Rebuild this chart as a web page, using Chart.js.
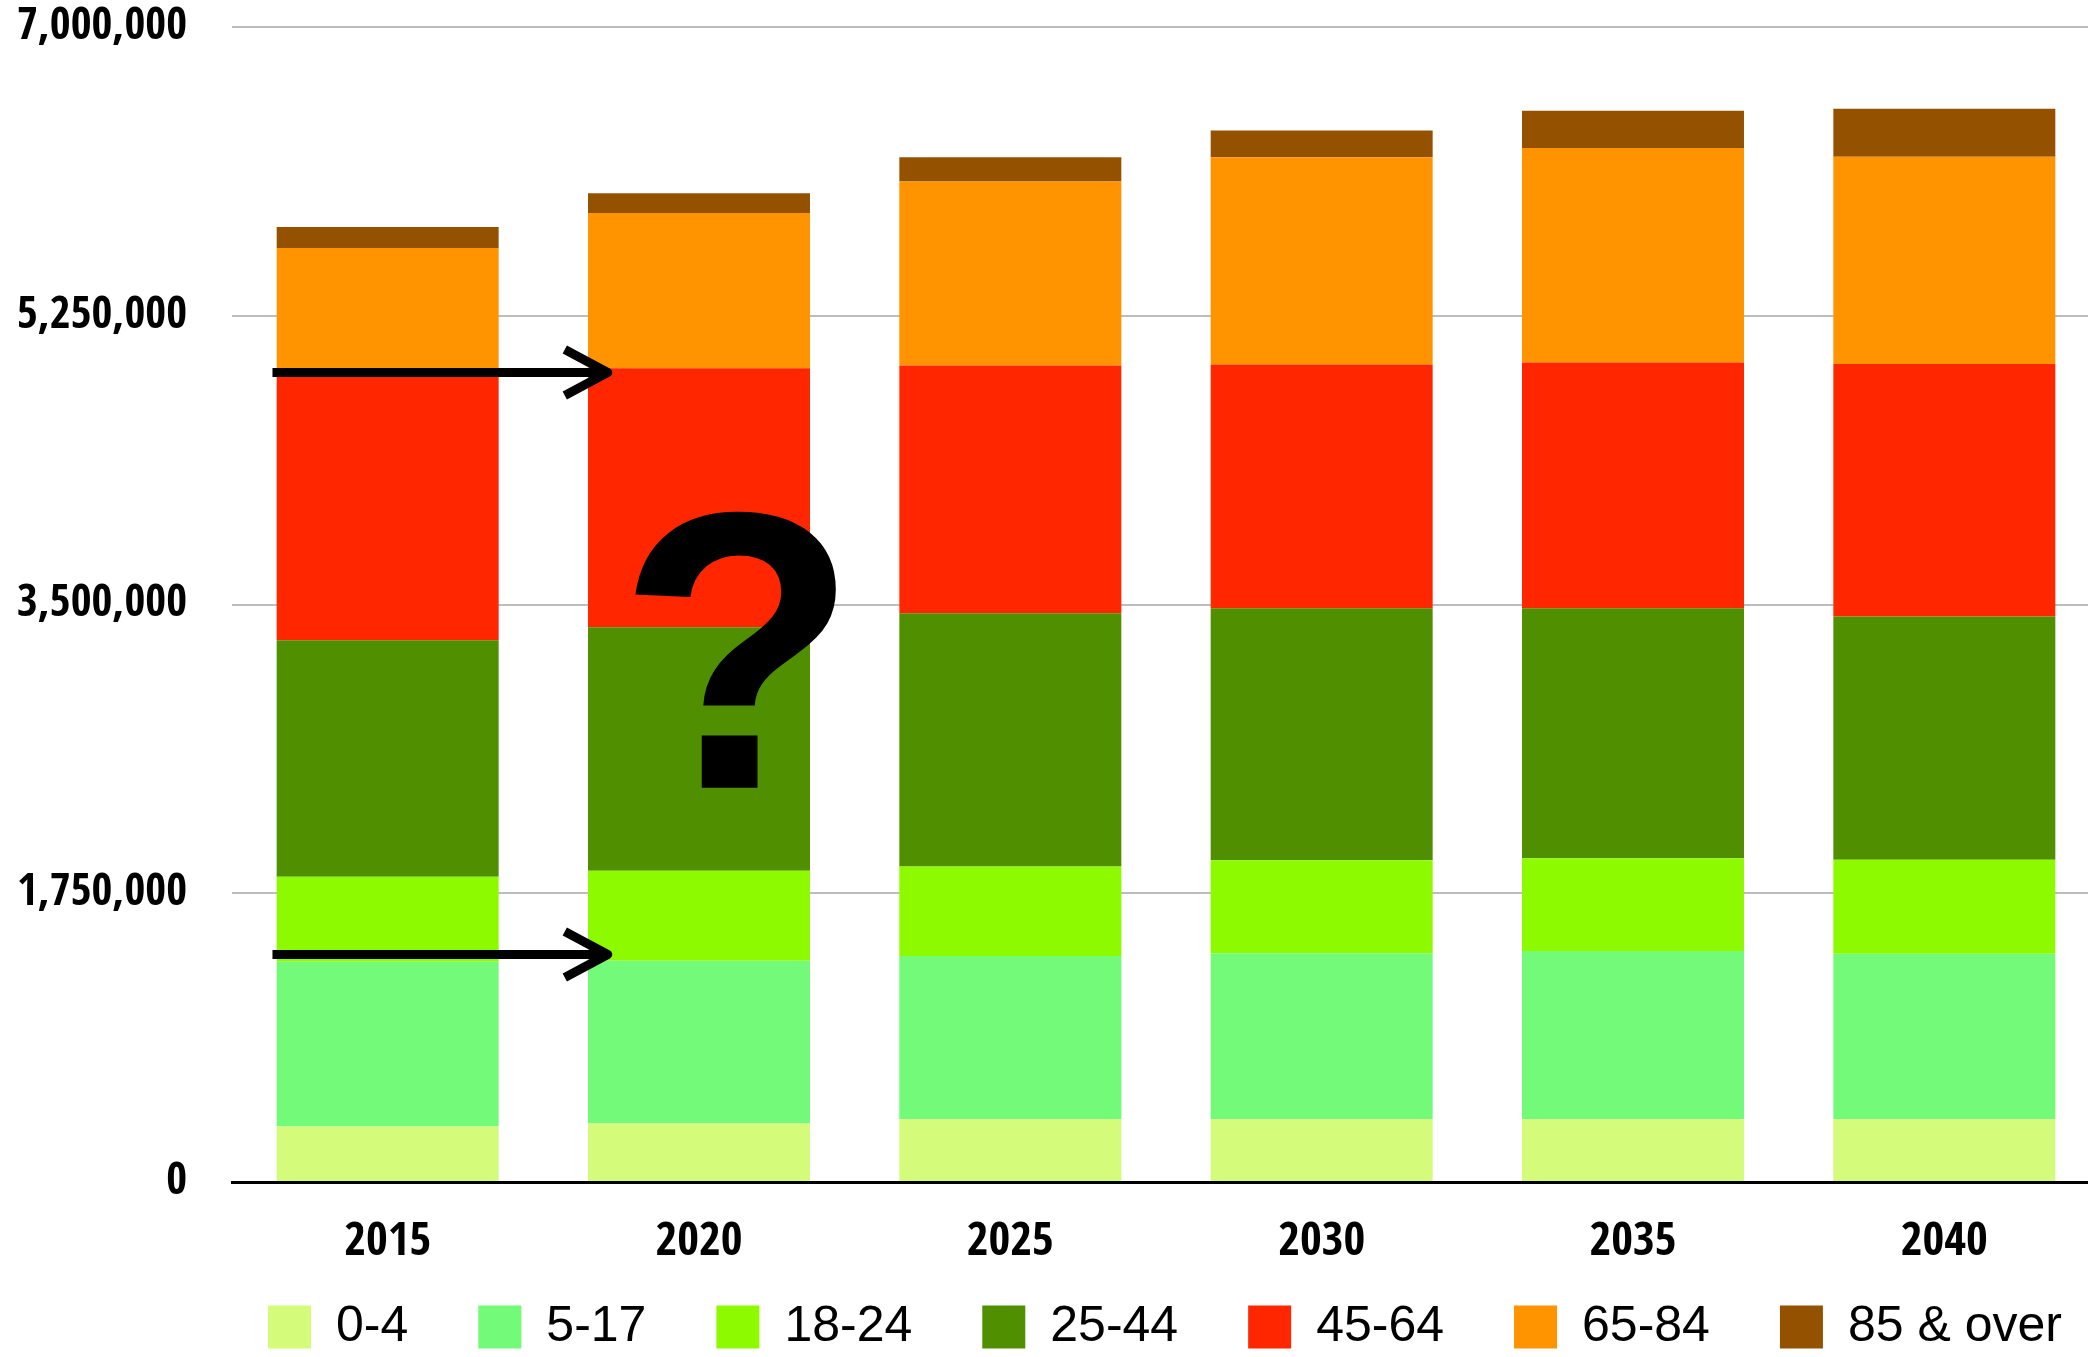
<!DOCTYPE html>
<html>
<head>
<meta charset="utf-8">
<script src="https://cdn.jsdelivr.net/npm/chart.js@4"></script>
<style>
  html, body { margin: 0; padding: 0; overflow: hidden; background: #fff; }
  #wrap { width: 2100px; height: 1362px; }
</style>
</head>
<body>
<div id="wrap"><canvas id="myChart"></canvas></div>
<script>
const years = ['2015', '2020', '2025', '2030', '2035', '2040']
const groups = ['0-4', '5-17', '18-24', '25-44', '45-64', '65-84', '85 & over']
const age0to4 = [337000, 355000, 380000, 380000, 380000, 380000]
const age5to17 = [998000, 986000, 990000, 1006000, 1020000, 1003000]
const age18to24 = [515000, 545000, 542000, 564000, 562000, 570000]
const age25to44 = [1433000, 1476000, 1535000, 1527000, 1516000, 1474000]
const age45to64 = [1627000, 1570000, 1501000, 1478000, 1488000, 1530000]
const age65to84 = [751000, 941000, 1115000, 1255000, 1301000, 1256000]
const age85plus = [127000, 119000, 147000, 162000, 226000, 291000]
const colors = ['#D4FB79', '#73FA79', '#8EFA00', '#4F8F00', '#FF2600', '#FF9300', '#945200']
const yTicks = [0, 1750000, 3500000, 5250000, 7000000]
// arrows from the 2015 bar to the 2020 bar, and the big question mark
const arrowLevels = [4906000, 1379000]
const mark = '?'

const series = [age0to4, age5to17, age18to24, age25to44, age45to64, age65to84, age85plus]

const sans = "'Liberation Sans', Arial, sans-serif"
const condensed = "'Open Sans Condensed', 'Roboto Condensed', 'Liberation Sans', sans-serif"

const annotate = {
    id: 'annotate',
    afterLayout(chart) {
        // legend sits centred under the plot area, not the whole canvas
        chart.legend.left = chart.chartArea.left - 42
        chart.legend.right = chart.chartArea.right + 40
        // let the year labels hang below their (short) axis box
        chart.scales.x.bottom += 40
    },
    afterDatasetsDraw(chart) {
        const {ctx, scales: {x, y}} = chart
        const step = x.getPixelForValue(1) - x.getPixelForValue(0)
        ctx.save()
        ctx.strokeStyle = '#000'
        ctx.lineWidth = 9
        ctx.lineJoin = 'round'
        arrowLevels.forEach(v => {
            const py = y.getPixelForValue(v)
            const x0 = x.getPixelForValue(0) - 0.37 * step
            const x1 = x.getPixelForValue(1) - 0.293 * step
            ctx.beginPath()
            ctx.moveTo(x0, py)
            ctx.lineTo(x1 - 4, py)
            ctx.stroke()
            ctx.beginPath()
            ctx.moveTo(x1 - 43, py - 23)
            ctx.lineTo(x1, py)
            ctx.lineTo(x1 - 43, py + 23)
            ctx.stroke()
        })
        ctx.fillStyle = '#000'
        ctx.font = 'bold 395px ' + sans
        ctx.textAlign = 'center'
        ctx.textBaseline = 'alphabetic'
        ctx.fillText(mark, x.getPixelForValue(1) + 0.125 * step, y.getPixelForValue(2390000))
        ctx.restore()
    }
}

new Chart('myChart', {
    type: 'bar',
    data: {
        labels: years,
        datasets: series.map((d, i) => ({
            label: groups[i],
            data: d,
            backgroundColor: colors[i],
            borderWidth: 0,
            categoryPercentage: 1,
            barPercentage: 0.713
        }))
    },
    options: {
        responsive: true,
        maintainAspectRatio: false,
        animation: false,
        layout: {padding: {top: 27, left: 0, right: 0, bottom: 0}},
        plugins: {
            tooltip: {enabled: false},
            legend: {
                position: 'bottom',
                labels: {
                    boxWidth: 43,
                    boxHeight: 43,
                    padding: 70,
                    color: '#000',
                    font: {family: sans, size: 50}
                }
            }
        },
        scales: {
            x: {
                stacked: true,
                afterFit: s => { s.height = 50 },
                grid: {display: false, drawTicks: false},
                border: {display: true, color: '#000', width: 3},
                ticks: {
                    color: '#000',
                    padding: 58,
                    font: {family: condensed, size: 47, weight: 'bold', lineHeight: 0.1}
                }
            },
            y: {
                stacked: true,
                min: 0,
                max: 7000000,
                afterBuildTicks: s => { s.ticks = yTicks.map(v => ({value: v})) },
                afterFit: s => { s.width = 232; s.paddingTop = 0; s.paddingBottom = 0 },
                grid: {color: '#bdbdbd', lineWidth: 2, drawTicks: false},
                border: {display: false},
                ticks: {
                    color: '#000',
                    padding: 45,
                    font: {family: condensed, size: 45, weight: 'bold'},
                    callback: v => v.toLocaleString('en-US')
                }
            }
        }
    },
    plugins: [annotate]
})
</script>
</body>
</html>
